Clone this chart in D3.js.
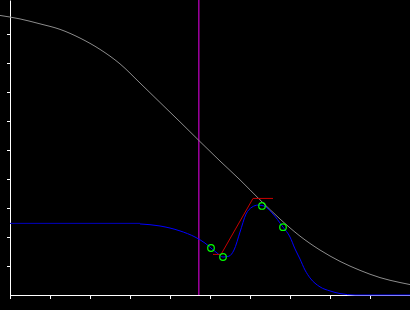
<!DOCTYPE html>
<html>
<head>
<meta charset="utf-8">
<script src="https://cdn.jsdelivr.net/npm/d3@7"></script>
<style>
  html, body { margin: 0; padding: 0; background: #000; }
  svg { display: block; }
</style>
</head>
<body>
<svg id="canvas" width="410" height="310"></svg>
<script>
// values (x in axis units, y as fraction of axis)
let greyX = [-0.25, 0.25, 0.75, 1.25, 1.75, 2.25, 2.75, 3.25, 3.75, 4.25, 4.75, 5.25, 5.75, 6.25, 6.75, 7.25, 7.75, 8.25, 8.75, 9.25, 9.75, 10]
let greyY = [0.964, 0.952, 0.935, 0.916, 0.886, 0.847, 0.797, 0.731, 0.664, 0.597, 0.529, 0.462, 0.397, 0.328, 0.262, 0.203, 0.155, 0.116, 0.085, 0.060, 0.043, 0.036]

let flatX = [0, 3.25]
let flatY = [0.247, 0.247]

let blueX = [3.25, 3.75, 4.25, 4.625, 4.875, 5.025, 5.175, 5.325, 5.475, 5.6, 5.75, 5.9, 6.05, 6.2, 6.35, 6.55, 6.825, 7.0, 7.125, 7.25, 7.375, 7.5, 7.75, 8.0, 8.25, 8.625, 10]
let blueY = [0.245, 0.238, 0.221, 0.200, 0.179, 0.162, 0.145, 0.131, 0.134, 0.155, 0.217, 0.279, 0.303, 0.310, 0.307, 0.283, 0.234, 0.200, 0.159, 0.124, 0.086, 0.059, 0.028, 0.014, 0.005, 0, 0]

let redX = [5.075, 5.275, 6.075, 6.575]
let redY = [0.140, 0.140, 0.333, 0.333]

let pointX = [5.025, 5.325, 6.3, 6.825]
let pointY = [0.162, 0.131, 0.307, 0.234]

let markerX = 4.72

let xTicks = [0, 1, 2, 3, 4, 5, 6, 7, 8, 9, 10]
let yTicks = [0.1, 0.2, 0.3, 0.4, 0.5, 0.6, 0.7, 0.8, 0.9]

let canvas = d3.select("#canvas")

let xScale = d3.scaleLinear().domain([0, 10]).range([10, 410])
let yScale = d3.scaleLinear().domain([0, 295 / 290]).range([295, 0])

let zip = (xs, ys) => xs.map((x, i) => [x, ys[i]])

let line = d3.line()
    .x((d) => xScale(d[0]))
    .y((d) => yScale(d[1]))

// axes
let xAxis = d3.axisBottom(xScale).tickValues(xTicks).tickSizeInner(4).tickSizeOuter(0).tickFormat("")
let yAxis = d3.axisLeft(yScale).tickValues(yTicks).tickSizeInner(3).tickSizeOuter(0).tickFormat("")

canvas.append("g")
    .attr("transform", "translate(0,295)")
    .call(xAxis)
    .call((g) => g.selectAll("path, line").attr("stroke", "#fff"))

canvas.append("g")
    .attr("transform", "translate(10,0)")
    .call(yAxis)
    .call((g) => g.selectAll("path, line").attr("stroke", "#fff"))

// purple marker line
canvas.append("line")
    .attr("x1", xScale(markerX))
    .attr("x2", xScale(markerX))
    .attr("y1", 0)
    .attr("y2", yScale(0))
    .attr("stroke", "#a000a0")
    .attr("stroke-width", 1.5)

// grey curve
canvas.append("path")
    .attr("d", line.curve(d3.curveMonotoneX)(zip(greyX, greyY)))
    .attr("fill", "none")
    .attr("stroke", "#8c8c8c")
    .attr("stroke-width", 1)

// flat dark blue segment
canvas.append("path")
    .attr("d", line.curve(d3.curveLinear)(zip(flatX, flatY)))
    .attr("fill", "none")
    .attr("stroke", "#0000c0")
    .attr("stroke-width", 1)

// blue curve
canvas.append("path")
    .attr("d", line.curve(d3.curveMonotoneX)(zip(blueX, blueY)))
    .attr("fill", "none")
    .attr("stroke", "#0000ff")
    .attr("stroke-width", 1)

// red step
canvas.append("path")
    .attr("d", line.curve(d3.curveLinear)(zip(redX, redY)))
    .attr("fill", "none")
    .attr("stroke", "#c80000")
    .attr("stroke-width", 1)

// green circles
canvas.selectAll("circle")
    .data(zip(pointX, pointY))
    .enter()
    .append("circle")
    .attr("cx", (d) => xScale(d[0]))
    .attr("cy", (d) => yScale(d[1]))
    .attr("r", 3.3)
    .attr("fill", "none")
    .attr("stroke", "#00ff00")
    .attr("stroke-width", 1.2)
</script>
</body>
</html>
